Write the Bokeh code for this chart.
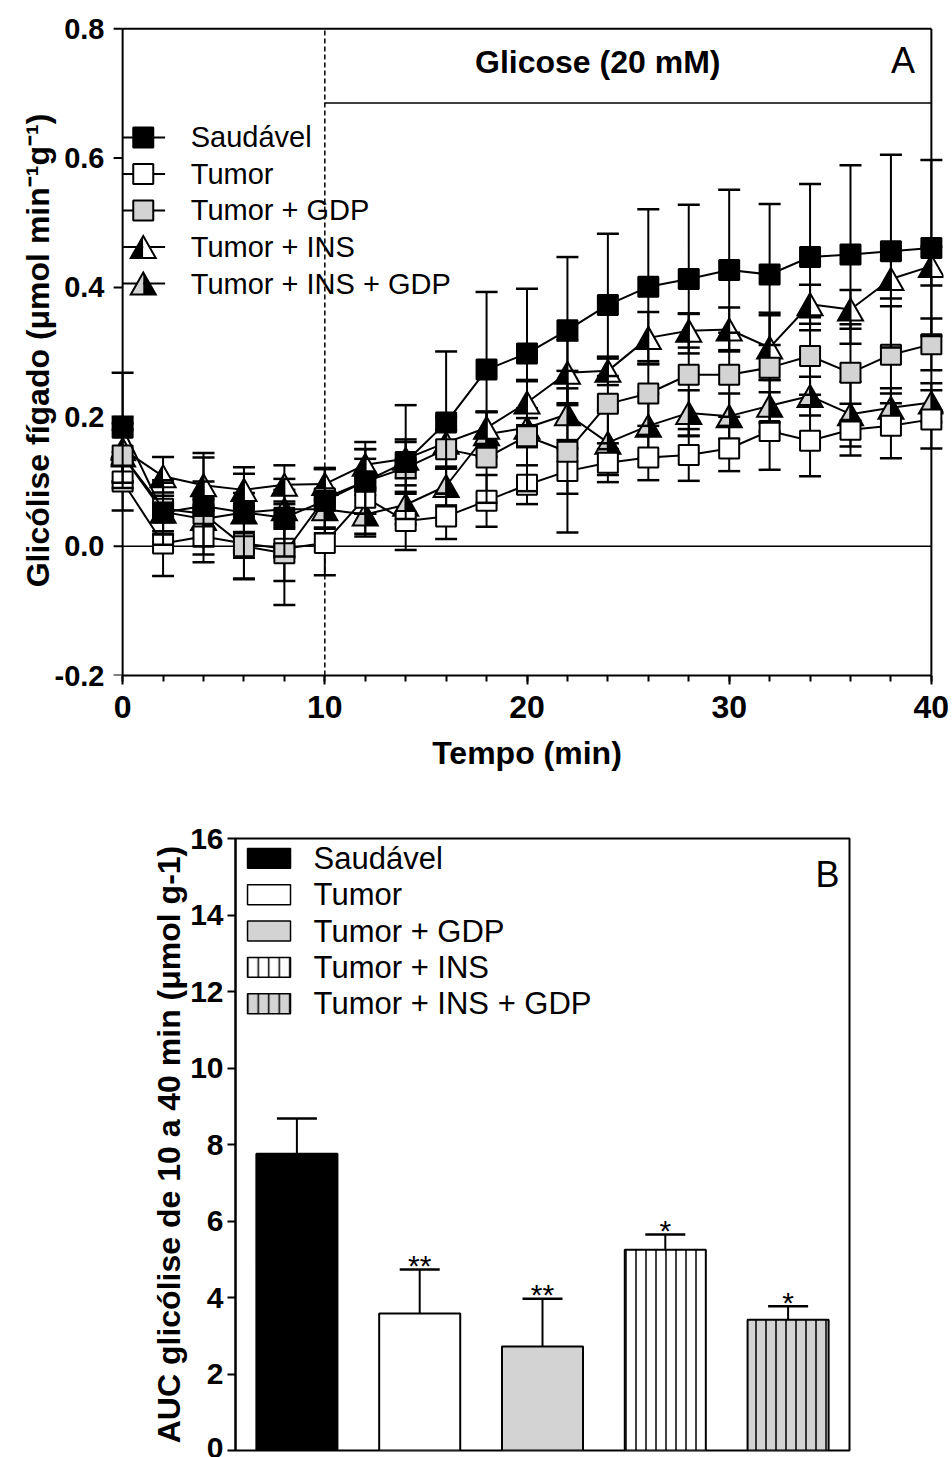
from bokeh.plotting import figure
from bokeh.models import (Range1d, FixedTicker, PrintfTickFormatter, ColumnDataSource,
                          Whisker, TeeHead)
from bokeh.embed import file_html
from bokeh.resources import INLINE
from bokeh.core.properties import value

# ---------------- data ----------------
time_min = list(range(0, 41, 2))

saudavel = [0.183, 0.052, 0.062, 0.052, 0.044, 0.070, 0.100, 0.130, 0.191, 0.273, 0.298,
            0.334, 0.373, 0.401, 0.413, 0.427, 0.420, 0.447, 0.451, 0.456, 0.461]
saudavel_err = [0.085, 0.05, 0.075, 0.07, 0.06, 0.05, 0.05, 0.088, 0.11, 0.12, 0.10,
                0.113, 0.11, 0.12, 0.115, 0.124, 0.109, 0.113, 0.138, 0.149, 0.136]

tumor = [0.100, 0.004, 0.015, 0.004, -0.004, 0.005, 0.075, 0.039, 0.046, 0.070, 0.095,
         0.116, 0.129, 0.137, 0.141, 0.151, 0.178, 0.163, 0.180, 0.186, 0.196]
tumor_err = [0.045, 0.05, 0.04, 0.055, 0.05, 0.05, 0.06, 0.045, 0.035, 0.04, 0.03,
             0.035, 0.03, 0.035, 0.04, 0.035, 0.06, 0.055, 0.04, 0.05, 0.045]

tumor_gdp = [0.140, 0.058, 0.050, 0.000, -0.011, 0.074, 0.100, 0.121, 0.150, 0.137, 0.170,
             0.146, 0.220, 0.236, 0.265, 0.265, 0.276, 0.294, 0.268, 0.296, 0.312]
tumor_gdp_err = [0.05, 0.04, 0.05, 0.05, 0.08, 0.045, 0.05, 0.04, 0.03, 0.07, 0.085,
                 0.125, 0.07, 0.05, 0.095, 0.065, 0.085, 0.06, 0.075, 0.075, 0.04]

tumor_ins = [0.150, 0.108, 0.094, 0.087, 0.095, 0.096, 0.126, 0.135, 0.160, 0.183, 0.222,
             0.268, 0.271, 0.322, 0.333, 0.335, 0.307, 0.374, 0.366, 0.413, 0.433]
tumor_ins_err = [0.05, 0.03, 0.05, 0.025, 0.03, 0.025, 0.035, 0.03, 0.04, 0.025, 0.035,
                 0.05, 0.022, 0.04, 0.026, 0.034, 0.05, 0.03, 0.03, 0.03, 0.03]

tumor_ins_gdp = [0.140, 0.053, 0.042, 0.052, 0.057, 0.057, 0.049, 0.064, 0.093, 0.173, 0.183,
                 0.204, 0.160, 0.186, 0.206, 0.201, 0.217, 0.232, 0.204, 0.214, 0.222]
tumor_ins_gdp_err = [0.04, 0.03, 0.03, 0.03, 0.03, 0.03, 0.03, 0.03, 0.03, 0.035, 0.03,
                     0.04, 0.05, 0.05, 0.035, 0.035, 0.04, 0.03, 0.05, 0.03, 0.03]

group_names = ["Saudável", "Tumor", "Tumor + GDP", "Tumor + INS", "Tumor + INS + GDP"]

auc_mean = [7.76, 3.58, 2.72, 5.25, 3.42]
auc_err = [0.92, 1.15, 1.25, 0.40, 0.35]
auc_sig = ["", "**", "**", "*", "*"]

x_ticks_a = [0, 10, 20, 30, 40]
y_ticks_a = [-0.2, 0.0, 0.2, 0.4, 0.6, 0.8]
y_ticks_b = [0, 2, 4, 6, 8, 10, 12, 14, 16]

# ---------------- style / layout ----------------
FONT = "Liberation Sans"
GRAY = "#d3d3d3"
X0, X1 = -0.6, 40.6
Y0, Y1 = -0.2, 0.805
FRAME_W, FRAME_H = 833, 650
PX_X = FRAME_W / (X1 - X0)
PX_Y = FRAME_H / (Y1 - Y0)
TRI_HW = 12.5 / PX_X
TRI_HH = 11.0 / PX_Y
TICK_LEN = 9 / PX_X

pA = figure(width=952, height=790, x_range=Range1d(X0, X1), y_range=Range1d(Y0, Y1),
            output_backend="svg", toolbar_location=None,
            min_border_left=110, min_border_right=9, min_border_top=25, min_border_bottom=115)
pA.outline_line_color = None
pA.grid.visible = False
pA.background_fill_color = "white"
pA.border_fill_color = "white"

xa = pA.xaxis[0]
xa.ticker = FixedTicker(ticks=x_ticks_a, minor_ticks=time_min)
xa.bounds = (0, 40)
xa.axis_line_width = 2
xa.major_tick_line_width = 2
xa.minor_tick_line_width = 2
xa.major_tick_in = 0
xa.major_tick_out = 9
xa.minor_tick_in = 0
xa.minor_tick_out = 6
xa.major_label_standoff = 11
xa.major_label_text_font_size = "32px"
xa.axis_label = "Tempo (min)"
xa.axis_label_standoff = 14

ya = pA.yaxis[0]
ya.ticker = FixedTicker(ticks=y_ticks_a, minor_ticks=[])
ya.formatter = PrintfTickFormatter(format="%.1f")
ya.axis_line_color = None
ya.major_tick_line_color = None
ya.minor_tick_line_color = None
ya.major_tick_in = 0
ya.major_tick_out = 0
ya.major_label_standoff = 6
ya.major_label_text_font_size = "29px"
ya.axis_label = "Glicólise fígado (μmol min⁻¹g⁻¹)"
ya.axis_label_standoff = -4

for ax in (xa, ya):
    ax.major_label_text_font = FONT
    ax.major_label_text_font_style = "bold"
    ax.major_label_text_color = "black"
    ax.axis_label_text_font = FONT
    ax.axis_label_text_font_style = "bold"
    ax.axis_label_text_font_size = "32px"
    ax.axis_label_text_color = "black"

# y axis rule and ticks drawn at x = 0, frame lines, zero line, dashed line, glucose bar
pA.segment(x0=[0], y0=[-0.2], x1=[0], y1=[0.8], line_color="black", line_width=2)
pA.segment(x0=[-TICK_LEN] * len(y_ticks_a), y0=y_ticks_a, x1=[0] * len(y_ticks_a), y1=y_ticks_a,
           line_color="black", line_width=2)
pA.segment(x0=[0, 40], y0=[0.8, -0.2], x1=[40, 40], y1=[0.8, 0.8], line_color="black", line_width=2)
pA.segment(x0=[0], y0=[0.0], x1=[40], y1=[0.0], line_color="black", line_width=1.5)
pA.segment(x0=[10], y0=[-0.2], x1=[10], y1=[0.8], line_color="black", line_width=1.5, line_dash="5 3")
pA.segment(x0=[10], y0=[0.685], x1=[40], y1=[0.685], line_color="black", line_width=1.5)
pA.text(x=[23.5], y=[0.748], text=["Glicose (20 mM)"], text_font=value(FONT), text_font_style="bold",
        text_font_size="32px", text_align="center", text_baseline="middle", text_color="black")
pA.text(x=[38.6], y=[0.751], text=["A"], text_font=value(FONT), text_font_size="36px",
        text_align="center", text_baseline="middle", text_color="black")


def tri_halves(xs_, ys_):
    left_x = [[x - TRI_HW, x, x] for x in xs_]
    left_y = [[y - TRI_HH, y + TRI_HH, y - TRI_HH] for y in ys_]
    right_x = [[x, x + TRI_HW, x] for x in xs_]
    right_y = [[y + TRI_HH, y - TRI_HH, y - TRI_HH] for y in ys_]
    full_x = [[x - TRI_HW, x, x + TRI_HW] for x in xs_]
    full_y = [[y - TRI_HH, y + TRI_HH, y - TRI_HH] for y in ys_]
    return left_x, left_y, right_x, right_y, full_x, full_y


def draw_series(vals, errs, kind, fill_l, fill_r=None):
    up = [v + e for v, e in zip(vals, errs)]
    lo = [v - e for v, e in zip(vals, errs)]
    pA.segment(x0=time_min, y0=lo, x1=time_min, y1=up, line_color="black", line_width=2)
    pA.scatter(time_min, up, marker="dash", size=22, line_color="black", line_width=2.5)
    pA.scatter(time_min, lo, marker="dash", size=22, line_color="black", line_width=2.5)
    pA.line(time_min, vals, line_color="black", line_width=2)
    if kind == "square":
        pA.scatter(time_min, vals, marker="square", size=20, fill_color=fill_l,
                   line_color="black", line_width=2)
    else:
        lx, ly, rx, ry, fx, fy = tri_halves(time_min, vals)
        pA.patches(lx, ly, fill_color=fill_l, line_color=None)
        pA.patches(rx, ry, fill_color=fill_r, line_color=None)
        pA.patches(fx, fy, fill_color=None, line_color="black", line_width=2, line_join="miter")


draw_series(tumor_ins_gdp, tumor_ins_gdp_err, "tri", GRAY, "black")
draw_series(tumor_ins, tumor_ins_err, "tri", "black", "white")
draw_series(tumor, tumor_err, "square", "white")
draw_series(tumor_gdp, tumor_gdp_err, "square", GRAY)
draw_series(saudavel, saudavel_err, "square", "black")

# legend A (manual)
LEG_Y0, LEG_DY = 0.632, 0.0565
leg_y = [LEG_Y0 - i * LEG_DY for i in range(len(group_names))]
pA.segment(x0=[0] * 5, y0=leg_y, x1=[2.1] * 5, y1=leg_y, line_color="black", line_width=2)
pA.scatter([1.02] * 3, leg_y[:3], marker="square", size=20, fill_color=["black", "white", GRAY],
           line_color="black", line_width=2)
lx, ly, rx, ry, fx, fy = tri_halves([1.02, 1.02], leg_y[3:])
pA.patches(lx, ly, fill_color=["black", GRAY], line_color=None)
pA.patches(rx, ry, fill_color=["white", "black"], line_color=None)
pA.patches(fx, fy, fill_color=None, line_color="black", line_width=2, line_join="miter")
pA.text(x=[3.37] * 5, y=leg_y, text=group_names, text_font=value(FONT), text_font_size="29px",
        text_align="left", text_baseline="middle", text_color="black")

# ---------------- panel B ----------------
pB = figure(width=952, height=667, x_range=Range1d(0.5, 5.5), y_range=Range1d(0, 16),
            output_backend="svg", toolbar_location=None,
            min_border_left=235, min_border_right=103, min_border_top=48, min_border_bottom=7)
pB.grid.visible = False
pB.outline_line_color = "black"
pB.outline_line_width = 2
pB.xaxis.visible = False
yb = pB.yaxis[0]
yb.ticker = FixedTicker(ticks=y_ticks_b, minor_ticks=[])
yb.axis_line_width = 2
yb.major_tick_line_width = 2
yb.major_tick_in = 0
yb.major_tick_out = 8
yb.major_label_text_font = FONT
yb.major_label_text_font_style = "bold"
yb.major_label_text_font_size = "30px"
yb.major_label_text_color = "black"
yb.major_label_standoff = 4
yb.axis_label = "AUC glicólise de 10 a 40 min (μmol g-1)"
yb.axis_label_text_font = FONT
yb.axis_label_text_font_style = "bold"
yb.axis_label_text_font_size = "32px"
yb.axis_label_text_color = "black"
yb.axis_label_standoff = 0

xpos = [1, 2, 3, 4, 5]
bar_src = ColumnDataSource(dict(
    x=xpos, top=auc_mean, upper=[m + e for m, e in zip(auc_mean, auc_err)],
    fill=["black", "white", GRAY, "white", GRAY],
    hatch=[" ", " ", " ", "|", "|"],
    sig=auc_sig,
))
bar_src.data["sig_y"] = [u + 0.1 for u in bar_src.data["upper"]]
pB.vbar(x="x", top="top", width=0.66, source=bar_src, fill_color="fill", line_color="black",
        line_width=2, hatch_pattern="hatch", hatch_color="black", hatch_scale=10, hatch_weight=1.5)
pB.add_layout(Whisker(base="x", upper="upper", lower="top", source=bar_src, line_width=2,
                      line_color="black",
                      upper_head=TeeHead(size=40, line_width=2.5, line_color="black"),
                      lower_head=None))
pB.text(x="x", y="sig_y", text="sig", source=bar_src, text_font=value(FONT), text_font_size="30px",
        text_align="center", text_baseline="alphabetic", text_color="black")
pB.text(x=[5.32], y=[15.07], text=["B"], text_font=value(FONT), text_font_size="36px",
        text_align="center", text_baseline="middle", text_color="black")

# legend B (manual)
LEGB_Y0, LEGB_DY = 15.48, 0.95
legb_y = [LEGB_Y0 - i * LEGB_DY for i in range(len(group_names))]
pB.rect(x=[0.773] * 5, y=legb_y, width=0.35, height=0.52,
        fill_color=["black", "white", GRAY, "white", GRAY], line_color="black", line_width=1.5,
        hatch_pattern=[" ", " ", " ", "|", "|"], hatch_color="black", hatch_scale=10.5, hatch_weight=1.5)
pB.text(x=[1.136] * 5, y=legb_y, text=group_names, text_font=value(FONT), text_font_size="31px",
        text_align="left", text_baseline="middle", text_color="black")

open("out.html", "w").write(file_html([pA, pB], INLINE))
